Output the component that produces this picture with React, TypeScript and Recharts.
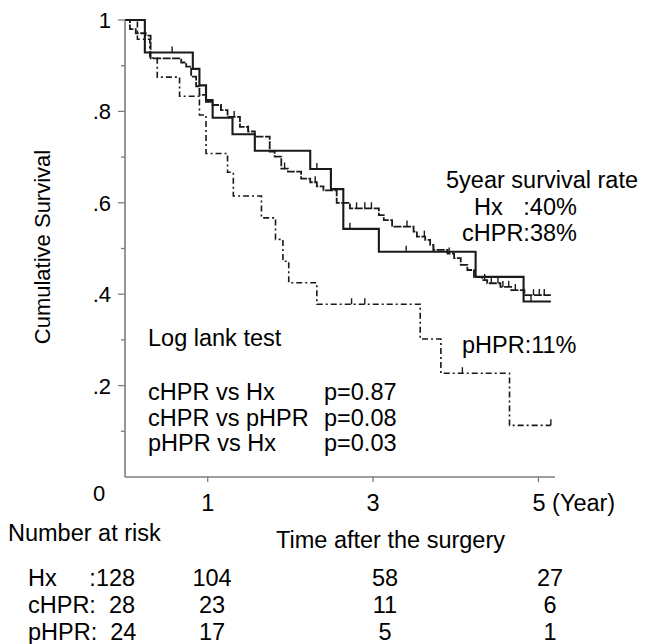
import { ComposedChart, Line, Scatter, XAxis, YAxis } from "recharts";

// Kaplan-Meier steps (time in years, cumulative survival)
const hxTimes = [0, 0.06, 0.13, 0.25, 0.31, 0.68, 0.74, 0.8, 0.86, 0.9, 0.98, 1.06, 1.16, 1.24, 1.39, 1.49, 1.57, 1.75, 1.81, 1.89, 1.97, 2.13, 2.24, 2.32, 2.4, 2.56, 2.72, 3.07, 3.13, 3.23, 3.49, 3.53, 3.63, 3.69, 3.73, 3.9, 3.98, 4.06, 4.14, 4.22, 4.32, 4.38, 4.54, 4.67, 4.83, 5.15];
const hxSurv = [1, 0.98, 0.971, 0.966, 0.916, 0.907, 0.898, 0.876, 0.855, 0.836, 0.825, 0.814, 0.803, 0.788, 0.766, 0.756, 0.745, 0.712, 0.701, 0.675, 0.668, 0.653, 0.645, 0.636, 0.627, 0.6, 0.588, 0.573, 0.562, 0.548, 0.537, 0.526, 0.519, 0.508, 0.497, 0.489, 0.479, 0.464, 0.453, 0.438, 0.431, 0.424, 0.416, 0.409, 0.398, 0.398];
const hxCensor = [1.16, 1.32, 1.49, 1.93, 2.3, 2.8, 2.9, 2.98, 3.41, 3.62, 3.92, 4.35, 4.43, 4.51, 4.57, 4.64, 4.72, 4.94, 5.01, 5.07];

const cTimes = [0, 0.24, 0.82, 0.9, 0.98, 1.06, 1.3, 1.57, 2.24, 2.49, 2.64, 3.07, 4.24, 4.82, 5.15];
const cSurv = [1, 0.929, 0.893, 0.857, 0.821, 0.786, 0.75, 0.714, 0.674, 0.63, 0.543, 0.493, 0.438, 0.384, 0.384];
const cCensor = [0.57, 2.32, 2.72, 3.4, 3.73, 4.91];

const pTimes = [0, 0.15, 0.3, 0.39, 0.66, 0.9, 0.98, 1.24, 1.31, 1.65, 1.82, 1.91, 1.98, 2.32, 3.57, 3.82, 4.65, 5.15];
const pSurv = [1, 0.958, 0.917, 0.875, 0.833, 0.792, 0.708, 0.667, 0.615, 0.567, 0.52, 0.472, 0.425, 0.378, 0.302, 0.227, 0.113, 0.113];
const pCensor = [2.74, 2.9, 4.08, 5.15];

const xTicks = [1, 3, 5];
const yTicks = [0, 0.1, 0.2, 0.3, 0.4, 0.5, 0.6, 0.7, 0.8, 0.9, 1];

const testLabels = ["cHPR vs Hx", "cHPR vs pHPR", "pHPR vs Hx"];
const testP = ["p=0.87", "p=0.08", "p=0.03"];
const riskLabels = ["Hx     :128", "cHPR:  28", "pHPR:  24"];
const riskAt1 = [104, 23, 17];
const riskAt3 = [58, 11, 5];
const riskAt5 = [27, 6, 1];

const INK = "#1a1a1a";
const AXIS = "#7c7c7c";
const FONT = "'Liberation Sans', Arial, sans-serif";
const FS = 23.5;

const toPoints = (times: number[], surv: number[]) => times.map((t, i) => ({ t, s: surv[i] }));
const survAt = (times: number[], surv: number[], t: number) => {
    let v = surv[0];
    times.forEach((tt, i) => {
        if (tt <= t) v = surv[i];
    });
    return v;
};
const censorPoints = (times: number[], surv: number[], cens: number[]) =>
    cens.map(t => ({ t, s: survAt(times, surv, t) }));

const hxData = toPoints(hxTimes, hxSurv);
const cData = toPoints(cTimes, cSurv);
const pData = toPoints(pTimes, pSurv);

const CensorMark = (props: any) => (
    <line x1={props.cx} x2={props.cx} y1={props.cy} y2={props.cy - 6} stroke={INK} strokeWidth={1.4} />
);

const YTick = (props: any) => {
    const { x, y, payload } = props;
    const v = payload.value;
    const major = Math.round(v * 10) % 2 === 0;
    let label = "";
    if (major) label = v === 1 ? "1" : v === 0 ? "0" : String(v).replace("0.", ".");
    return (
        <g>
            {v > 0 && <line x1={major ? x - 7 : x - 4} x2={x} y1={y} y2={y} stroke={AXIS} strokeWidth={1.3} />}
            {label && (
                <text
                    x={v === 0 ? x - 26 : x - 14}
                    y={v === 0 ? y + 24 : y + 8}
                    textAnchor={v === 0 ? "middle" : "end"}
                    fontSize={22}
                    fontFamily={FONT}
                    fill="#000"
                >
                    {label}
                </text>
            )}
        </g>
    );
};

const XTick = (props: any) => {
    const { x, y, payload } = props;
    const last = payload.value === 5;
    return (
        <g>
            <line x1={x} x2={x} y1={y} y2={y + 5} stroke={AXIS} strokeWidth={1.3} />
            <text
                x={last ? x - 6 : x}
                y={y + 34}
                textAnchor={last ? "start" : "middle"}
                fontSize={FS}
                fontFamily={FONT}
                fill="#000"
            >
                {last ? "5 (Year)" : payload.value}
            </text>
        </g>
    );
};

const txt = (left: number, cy: number, content: string, extra: any = {}) => (
    <div
        style={{
            position: "absolute",
            left,
            top: cy - FS * 0.59,
            fontSize: FS,
            lineHeight: 1.2,
            whiteSpace: "pre",
            ...extra,
        }}
    >
        {content}
    </div>
);

// left edge of the "cHPR" rate lines and of the colon that follows "cHPR"
const RATE_X = 462;
const RATE_COLON = RATE_X + 2.611 * FS;

export default function App() {
    return (
        <div
            style={{
                position: "absolute",
                left: 0,
                top: 0,
                width: 646,
                height: 644,
                background: "#fff",
                fontFamily: FONT,
                color: "#000",
                overflow: "hidden",
            }}
        >
            <ComposedChart width={646} height={644} margin={{ top: 20, right: 91, bottom: 0, left: 0 }}>
                <XAxis
                    dataKey="t"
                    type="number"
                    domain={[0, 5.2]}
                    ticks={xTicks}
                    allowDataOverflow
                    tickLine={false}
                    tickSize={0}
                    tickMargin={0}
                    axisLine={{ stroke: AXIS, strokeWidth: 1.6 }}
                    tick={<XTick />}
                    height={167}
                />
                <YAxis
                    type="number"
                    domain={[0, 1]}
                    ticks={yTicks}
                    interval={0}
                    tickLine={false}
                    tickSize={0}
                    tickMargin={0}
                    axisLine={{ stroke: AXIS, strokeWidth: 1.6 }}
                    tick={<YTick />}
                    width={125}
                />
                <Line data={hxData} dataKey="s" type="stepAfter" stroke={INK} strokeWidth={1.8} strokeDasharray="8 1.5" dot={false} activeDot={false} isAnimationActive={false} />
                <Line data={cData} dataKey="s" type="stepAfter" stroke={INK} strokeWidth={2.1} dot={false} activeDot={false} isAnimationActive={false} />
                <Line data={pData} dataKey="s" type="stepAfter" stroke={INK} strokeWidth={1.6} strokeDasharray="6 3 2 3" dot={false} activeDot={false} isAnimationActive={false} />
                <Scatter data={censorPoints(hxTimes, hxSurv, hxCensor)} dataKey="s" shape={<CensorMark />} isAnimationActive={false} />
                <Scatter data={censorPoints(cTimes, cSurv, cCensor)} dataKey="s" shape={<CensorMark />} isAnimationActive={false} />
                <Scatter data={censorPoints(pTimes, pSurv, pCensor)} dataKey="s" shape={<CensorMark />} isAnimationActive={false} />
            </ComposedChart>

            <div
                style={{
                    position: "absolute",
                    left: 43,
                    top: 247,
                    fontSize: 22,
                    whiteSpace: "pre",
                    transform: "translate(-50%, -50%) rotate(-90deg)",
                }}
            >
                Cumulative Survival
            </div>

            {txt(446, 180, "5year survival rate")}
            {txt(RATE_X + 12, 207, "Hx")}
            {txt(RATE_COLON, 207, ":40%")}
            {txt(RATE_X, 233, "cHPR:38%")}
            {txt(RATE_X, 345, "pHPR:11%")}

            {txt(148, 338, "Log lank test")}
            {testLabels.map((l, i) => txt(148, 392 + i * 25.5, l))}
            {testP.map((p, i) => txt(324, 392 + i * 25.5, p))}

            {txt(8, 533, "Number at risk")}
            {txt(276, 540, "Time after the surgery")}
            {riskLabels.map((l, i) => txt(28, 578 + i * 27, l))}
            {riskAt1.map((n, i) => txt(212, 578 + i * 27, String(n), { transform: "translateX(-50%)" }))}
            {riskAt3.map((n, i) => txt(385, 578 + i * 27, String(n), { transform: "translateX(-50%)" }))}
            {riskAt5.map((n, i) => txt(550, 578 + i * 27, String(n), { transform: "translateX(-50%)" }))}
        </div>
    );
}
